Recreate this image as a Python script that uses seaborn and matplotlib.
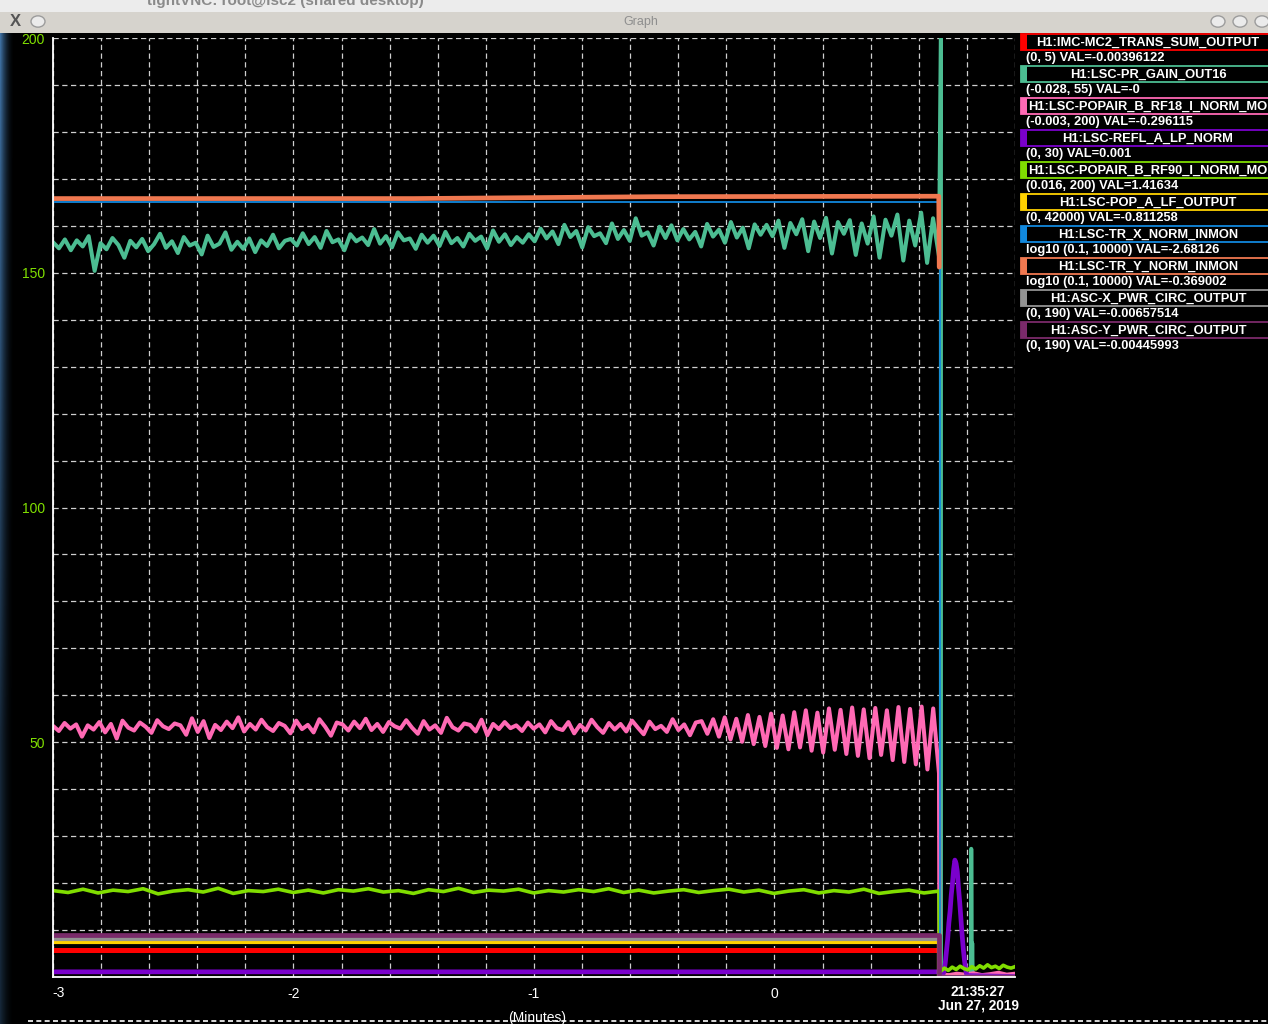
import numpy as np
import matplotlib
matplotlib.use("Agg")
import matplotlib.pyplot as plt
import seaborn as sns
from matplotlib.patches import Rectangle, Circle
from matplotlib.lines import Line2D
from matplotlib.ticker import MultipleLocator, FuncFormatter

W, H = 1268, 1024

# legend entries (StripTool style)
names = ["H1:IMC-MC2_TRANS_SUM_OUTPUT", "H1:LSC-PR_GAIN_OUT16", "H1:LSC-POPAIR_B_RF18_I_NORM_MON",
         "H1:LSC-REFL_A_LP_NORM", "H1:LSC-POPAIR_B_RF90_I_NORM_MON", "H1:LSC-POP_A_LF_OUTPUT",
         "H1:LSC-TR_X_NORM_INMON", "H1:LSC-TR_Y_NORM_INMON", "H1:ASC-X_PWR_CIRC_OUTPUT",
         "H1:ASC-Y_PWR_CIRC_OUTPUT"]
ranges = ["(0, 5) VAL=-0.00396122", "(-0.028, 55) VAL=-0", "(-0.003, 200) VAL=-0.296115",
          "(0, 30) VAL=0.001", "(0.016, 200) VAL=1.41634", "(0, 42000) VAL=-0.811258",
          "log10 (0.1, 10000) VAL=-2.68126", "log10 (0.1, 10000) VAL=-0.369002",
          "(0, 190) VAL=-0.00657514", "(0, 190) VAL=-0.00445993"]
colors = ["#ff0000", "#4cbd92", "#ff69b4", "#7a00cc", "#80dd00", "#ffd200",
          "#1188dd", "#f07850", "#939393", "#7a2a6a"]

# trace values (display units 0..200)
teal_vals = [156.5, 155.2, 157.1, 154.8, 156.9, 155.6, 157.8, 150.4, 156.3, 155.0,
             157.4, 155.9, 153.2, 156.8, 155.4, 157.2, 154.6, 156.1, 158.3, 155.3,
             156.7, 154.2, 157.6, 155.8, 156.4, 153.9, 157.9, 155.5, 156.2, 158.6,
             154.9, 156.6, 155.1, 157.3, 154.4, 156.9, 155.7, 158.1, 155.2, 156.8,
             157.2, 155.8, 158.4, 156.1, 157.6, 155.3, 158.9, 156.5, 157.1, 154.8,
             158.2, 156.7, 157.5, 155.9, 159.3, 156.2, 157.8, 155.4, 158.6, 156.9,
             157.3, 155.1, 158.1, 156.4, 157.9, 155.7, 158.7, 156.3, 157.4, 155.6,
             158.3, 156.8, 157.7, 155.2, 159.0, 156.6, 158.2, 155.9, 157.6, 156.4,
             158.2, 156.7, 159.4, 157.3, 158.8, 156.1, 160.2, 157.6, 158.9, 155.4,
             159.7, 157.8, 158.4, 156.3, 160.5, 157.2, 159.1, 156.8, 161.6, 157.9,
             158.6, 155.8, 159.8, 157.4, 160.1, 156.9, 159.3, 157.1, 158.7, 155.6,
             160.4, 157.7, 159.2, 156.4, 160.8, 157.5, 159.6, 155.2, 160.3, 158.1,
             160.2, 157.8, 161.1, 155.3, 160.6, 158.2, 161.4, 154.6, 160.9, 157.4,
             161.7, 154.1, 160.8, 158.3, 161.2, 153.8, 160.5, 156.2, 162.0, 153.2,
             161.3, 157.9, 162.4, 152.6, 161.1, 155.8, 162.8, 152.1, 161.6, 153.5]

pink_vals = [53.5, 52.4, 54.1, 52.9, 53.8, 51.2, 53.6, 52.7, 54.3, 52.1,
             53.9, 50.8, 54.6, 53.1, 52.5, 54.2, 53.3, 52.0, 54.7, 53.4,
             52.8, 54.0, 53.6, 51.6, 55.1, 52.2, 54.5, 50.9, 53.7, 52.6,
             54.4, 53.0, 55.3, 52.3, 53.9, 52.7, 54.8, 53.2, 52.4, 54.1,
             53.5, 51.9, 54.6, 52.8, 53.7, 52.1, 54.9, 53.3, 51.4, 54.2,
             53.8, 52.5, 54.4, 53.0, 55.0, 52.6, 53.9, 52.2, 54.3, 53.4,
             52.9, 54.7, 53.1, 51.8, 54.5, 52.7, 53.6, 52.0, 55.2, 53.2,
             52.5, 54.0, 53.7, 52.3, 54.8, 51.5, 53.9, 52.8, 54.3, 53.0,
             53.6, 52.4, 54.2, 52.9, 53.8, 52.1, 54.5, 53.0, 52.6, 54.3,
             51.9, 53.7, 52.5, 54.8, 53.2, 52.0, 54.1, 52.7, 53.9, 52.3,
             54.6, 53.1, 51.7, 54.4, 52.8, 53.5, 52.2, 54.9, 52.6, 53.8,
             51.5, 54.2,
             54.5, 51.8, 54.9, 51.2, 55.3, 50.6, 55.0, 50.1, 55.8, 49.6,
             55.4, 49.2, 56.1, 48.8, 55.7, 48.5, 56.4, 48.9, 56.8, 48.2,
             56.3, 47.8, 57.2, 48.4, 56.9, 47.5, 57.4, 47.1, 57.0, 46.6,
             57.3, 47.3, 56.8, 46.2, 57.5, 45.8, 57.1, 45.3, 57.6, 44.2,
             57.2, 43.4]

green_vals = [18.4, 18.0, 18.7, 17.9, 18.5, 18.2, 18.8, 17.7, 18.3, 18.6,
              18.1, 18.9, 17.8, 18.4, 18.2, 18.7, 18.0, 18.5, 17.9, 18.6,
              18.3, 18.8, 18.1, 18.4, 17.8, 18.6, 18.2, 18.9, 18.0, 18.5,
              18.3, 18.7, 17.9, 18.4, 18.1, 18.6, 18.2, 18.8, 18.0, 18.5,
              17.9, 18.3, 18.6, 18.0, 18.4, 18.7, 18.1, 18.5, 17.8, 18.3,
              18.6, 17.9, 18.4, 18.1, 18.7, 17.8, 18.2, 18.5, 17.9, 18.3]
green_post = [1.2, 1.9, 1.4, 2.1, 1.6, 2.3, 1.8, 1.5, 2.2, 1.7,
              2.4, 1.9, 2.6, 2.0, 2.3, 1.8, 2.5, 2.1, 1.9, 2.2]
pink_post = [0.6, 0.4, 0.7, 0.5, 0.8, 0.4, 0.6, 0.9, 0.5, 0.7]

# flat traces: level before the drop
red_level = 5.8
yellow_level = 7.5
gray_level = 8.2
ascy_level = 8.9
purple_level = 1.1
blue_level = 165.0
orange_vals = [165.8, 165.8, 166.2, 166.3]
orange_t = [-3.0, -1.5, -0.5, 0.683]

# purple peak and teal spike after the drop
peak_t = [0.700, 0.705, 0.710, 0.715, 0.720, 0.725, 0.730, 0.735, 0.740, 0.745, 0.750,
          0.755, 0.760, 0.765, 0.770, 0.775, 0.780, 0.785, 0.790, 0.795, 0.800]
peak_vals = [0.5, 1.2, 3.0, 5.5, 8.0, 11.5, 14.0, 17.5, 20.0, 23.0, 24.9,
             24.2, 22.5, 19.0, 16.0, 12.5, 9.0, 6.0, 3.5, 1.5, 0.3]
spike_t = [0.695, 0.817, 0.818, 0.820, 0.822, 0.824, 0.826, 1.0]
spike_vals = [0.0, 0.0, 27.3, 0.0, 7.2, 0.4, 0.4, 0.4]

t_drop = 0.686
t_end = 1.0


def fx(x):
    return x / W


def fy(y):
    return 1 - y / H


sns.set_style("dark")
plt.rcParams["font.family"] = ["Liberation Sans", "DejaVu Sans"]

fig = plt.figure(figsize=(W / 100, H / 100), dpi=100, facecolor="black")
ax = fig.add_axes([fx(53), fy(977), (1015 - 53) / W, (977 - 38) / H])
ax.set_facecolor("black")


def trace(x, y, color, lw):
    sns.lineplot(x=list(x), y=list(y), ax=ax, color=color, lw=lw,
                 estimator=None, sort=False, legend=False)


def flat(level, color, lw, post=0.0):
    trace([-3.0, t_drop, t_drop, t_end], [level, level, post, post], color, lw)


t_teal = np.linspace(-3.0, t_drop - 0.002, len(teal_vals))
t_pink = np.linspace(-3.0, t_drop - 0.002, len(pink_vals))
t_green = np.linspace(-3.0, t_drop - 0.002, len(green_vals))

# same order as the legend
flat(red_level, colors[0], 3.6, post=0.3)
trace(list(t_teal) + [0.692, 0.692] + spike_t,
      teal_vals + [200.0, 0.0] + spike_vals, colors[1], 2.9)
trace(list(t_pink) + [t_drop] + list(np.linspace(0.69, t_end, len(pink_post))),
      pink_vals + [0.5] + pink_post, colors[2], 2.9)
trace([-3.0, t_drop, t_drop] + peak_t + [t_end],
      [purple_level, purple_level, 0.0] + peak_vals + [0.1], colors[3], 3.4)
trace(list(t_green) + [t_drop] + list(np.linspace(0.69, t_end, len(green_post))),
      green_vals + [1.0] + green_post, colors[4], 2.6)
flat(yellow_level, colors[5], 3.0)
trace([-3.0, 0.689, 0.689], [blue_level, blue_level, 0.0], colors[6], 1.3)
trace(orange_t + [0.685], orange_vals + [151.2], colors[7], 3.4)
flat(gray_level, colors[8], 3.0)
flat(ascy_level, colors[9], 3.4)

ax.set_xlim(-3, 1)
ax.set_ylim(0, 200)
ax.set_xlabel("")
ax.set_ylabel("")
ax.xaxis.set_major_locator(MultipleLocator(0.2))
ax.yaxis.set_major_locator(MultipleLocator(10))
# -3 is written by hand a bit right of its tick, like on the screen
ax.xaxis.set_major_formatter(FuncFormatter(
    lambda v, _: f"{round(v):d}" if abs(v - round(v)) < 1e-6 and -2.5 < v < 0.5 else ""))
ax.yaxis.set_major_formatter(FuncFormatter(
    lambda v, _: f"{round(v):d}" if round(v) % 50 == 0 and v > 1 else ""))
ax.grid(True, color="#cfcfcf", linestyle=(0, (4.2, 2.8)), lw=0.9)
ax.set_axisbelow(True)
for s in ["top", "right"]:
    ax.spines[s].set_visible(False)
for s in ["left", "bottom"]:
    ax.spines[s].set_color("white")
    ax.spines[s].set_linewidth(1.3)
ax.tick_params(axis="x", direction="out", length=4, width=1, color="white",
               labelcolor="white", labelsize=10, pad=3)
ax.tick_params(axis="y", direction="out", length=3, width=1, color="white",
               labelcolor="#80e000", labelsize=10, pad=3)
fig.text(fx(59), fy(993), "-3", ha="center", va="center", color="white", fontsize=10)

# time stamp under the right end
fig.text(fx(978), fy(992), "21:35:27", ha="center", va="center", color="white",
         fontsize=9.8, weight="bold")
fig.text(fx(978), fy(1005), "Jun 27, 2019", ha="center", va="center", color="white",
         fontsize=9.8, weight="bold")
fig.text(fx(537), fy(1011), "(Minutes)", ha="center", va="top", color="white", fontsize=10)
fig.add_artist(Line2D([fx(28), 1], [fy(1021), fy(1021)], color="white", lw=1.2,
                      linestyle=(0, (3, 2)), transform=fig.transFigure))

# legend panel
for i, (nm, rg, c) in enumerate(zip(names, ranges, colors)):
    top = 34 + 32 * i
    fig.add_artist(Rectangle((fx(1021), fy(top + 16)), (1320 - 1021) / W, 16 / H,
                             facecolor="black", edgecolor=c, lw=1.3,
                             transform=fig.transFigure))
    fig.add_artist(Rectangle((fx(1021), fy(top + 16)), 6 / W, 16 / H,
                             facecolor=c, edgecolor="none", transform=fig.transFigure))
    if len(nm) > 28:
        fig.text(fx(1028), fy(top + 8.5), nm, ha="left", va="center", color="white",
                 fontsize=9.3, weight="bold")
    else:
        fig.text(fx(1148), fy(top + 8.5), nm, ha="center", va="center", color="white",
                 fontsize=9.3, weight="bold")
    fig.text(fx(1026), fy(top + 24), rg, ha="left", va="center", color="white",
             fontsize=9.3, weight="bold")

# window chrome
fig.add_artist(Rectangle((0, fy(12)), 1, 12 / H, facecolor="#ececec", edgecolor="none",
                         transform=fig.transFigure))
fig.text(fx(285), fy(1), "tightVNC: root@lsc2 (shared desktop)", ha="center", va="center",
         color="#8a8a8a", fontsize=11, weight="bold")
fig.add_artist(Rectangle((0, fy(33)), 1, 21 / H, facecolor="#d6d3cd", edgecolor="none",
                         transform=fig.transFigure))
fig.text(fx(641), fy(22.5), "Graph", ha="center", va="center", color="#8e8e8e", fontsize=9)
for cx in [38, 1218, 1240, 1262]:
    fig.add_artist(Circle((fx(cx), fy(21.5)), 7 / W, facecolor="#ebebeb", edgecolor="#9c9c9c",
                          lw=1, transform=fig.transFigure))
fig.text(fx(15), fy(21.5), "X", ha="center", va="center", color="#555555", fontsize=12,
         weight="bold")

# blue window edge glow on the left
gax = fig.add_axes([0, 0, 14 / W, fy(33)])
grad = np.zeros((100, 20, 4))
xs = np.linspace(1, 0, 20) ** 2
ys = np.clip(np.linspace(1.0, -0.4, 100), 0, 1)
grad[..., 0] = 0.25
grad[..., 1] = 0.45
grad[..., 2] = 0.65
grad[..., 3] = np.outer(0.35 + 0.65 * ys, xs)
gax.imshow(grad, aspect="auto", extent=[0, 1, 0, 1])
gax.axis("off")

fig.savefig("out.png", dpi=100, facecolor="black")
